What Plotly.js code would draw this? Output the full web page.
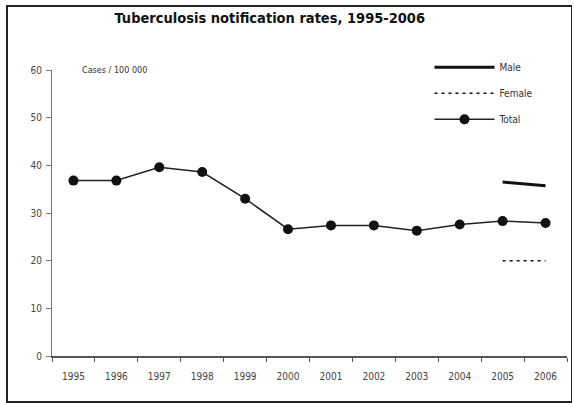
<!DOCTYPE html>
<html>
<head>
<meta charset="utf-8">
<script src="https://cdn.plot.ly/plotly-3.0.1.min.js"></script>
<style>
html,body{margin:0;padding:0;background:#fff;}
#frame{position:absolute;left:6px;top:5px;width:563px;height:394px;border:2px solid #222;border-right-width:1px;pointer-events:none;}
#chart{position:absolute;left:0;top:0;width:574px;height:403px;}
</style>
</head>
<body>
<div id="chart"></div>
<div id="frame"></div>
<script>
const years = ['1995','1996','1997','1998','1999','2000','2001','2002','2003','2004','2005','2006'];
const total = [36.8, 36.8, 39.6, 38.6, 33.0, 26.6, 27.4, 27.4, 26.3, 27.6, 28.3, 27.9];
const maleYears = ['2005','2006'];
const male = [36.5, 35.7];
const femaleYears = ['2005','2006'];
const female = [20.0, 20.0];
const yTicks = [0,10,20,30,40,50,60];

const font = "'Liberation Sans Narrow', 'DejaVu Sans Condensed', 'Liberation Sans', sans-serif";

const traces = [
  {x: maleYears, y: male, name: 'Male', legendgroup: 'm', mode: 'lines', line: {color: '#111', width: 3}},
  {x: femaleYears, y: female, name: 'Female', legendgroup: 'f', mode: 'lines', line: {color: '#111', width: 1.5, dash: '3px,4px'}},
  {x: years, y: total, name: 'Total', legendgroup: 't', mode: 'lines+markers', line: {color: '#222', width: 1.5}, marker: {color: '#111', size: 10}}
];

const layout = {
  width: 574, height: 403,
  margin: {l: 52, r: 7, t: 70, b: 47},
  paper_bgcolor: '#fff', plot_bgcolor: '#fff',
  font: {family: font, size: 10, color: '#333'},
  title: {text: 'Tuberculosis notification rates, 1995-2006', font: {family: font, size: 14.5, color: '#111', weight: 'bold'}, x: 0.47, xanchor: 'center', y: 0.955, yanchor: 'middle'},
  showlegend: true,
  legend: {x: 0.733, y: 1.06, xanchor: 'left', yanchor: 'top', traceorder: 'grouped', bgcolor: 'rgba(0,0,0,0)', font: {family: font, size: 10, color: '#333'}, tracegroupgap: 7, itemwidth: 60},
  xaxis: {type: 'category', categoryorder: 'array', categoryarray: years, range: [-0.5, 11.5], showgrid: false, zeroline: false, showline: true, linecolor: '#555', linewidth: 1.5, ticks: 'outside', tickson: 'boundaries', ticklen: 4, tickcolor: '#555', ticklabelstandoff: 10, tickfont: {size: 10, color: '#444'}, fixedrange: true},
  yaxis: {range: [0, 60], tickvals: yTicks, showgrid: false, zeroline: false, showline: true, linecolor: '#777', linewidth: 1, ticks: 'outside', ticklen: 5, tickcolor: '#777', ticklabelstandoff: 2, tickfont: {size: 10, color: '#444'}, fixedrange: true},
  annotations: [
    {text: 'Cases / 100 000', xref: 'paper', yref: 'paper', x: 0.055, y: 1.0, xanchor: 'left', yanchor: 'middle', showarrow: false, font: {family: font, size: 9, color: '#333'}}
  ]
};

Plotly.newPlot('chart', traces, layout, {displayModeBar: false, staticPlot: true});
</script>
</body>
</html>
